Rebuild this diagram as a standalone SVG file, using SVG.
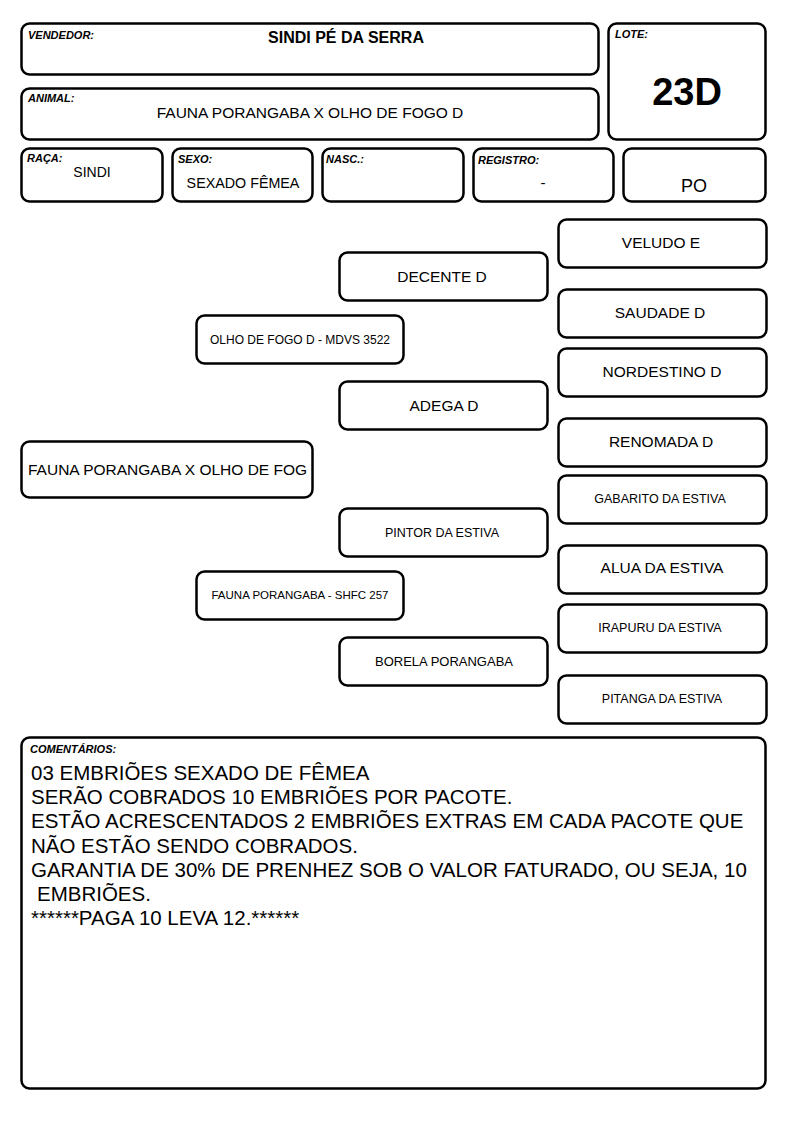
<svg xmlns="http://www.w3.org/2000/svg" width="794" height="1123" viewBox="0 0 794 1123">
<style>
  .box { fill: #ffffff; stroke: #000000; stroke-width: 2.5; }
  text { font-family: "Liberation Sans", Arial, sans-serif; fill: #000000; }
  .lbl { font-size: 11px; font-weight: bold; font-style: italic; }
  .c { text-anchor: middle; }
  .big { font-size: 15.5px; }
  .sm { font-size: 12.5px; }
  .cm { font-size: 20.5px; }
</style>
<rect width="794" height="1123" fill="#ffffff"/>
<g id="header">
  <g id="vendedor">
    <rect class="box" x="21.5" y="23.5" width="577" height="51" rx="8"/>
    <text class="lbl" x="28" y="39">VENDEDOR:</text>
    <text class="c" x="346" y="43" font-size="16" font-weight="bold">SINDI PÉ DA SERRA</text>
  </g>
  <g id="animal">
    <rect class="box" x="21.5" y="88.5" width="577" height="51" rx="8"/>
    <text class="lbl" x="28" y="102">ANIMAL:</text>
    <text class="c big" x="310" y="118">FAUNA PORANGABA X OLHO DE FOGO D</text>
  </g>
  <g id="lote">
    <rect class="box" x="608.5" y="23.5" width="157" height="116" rx="8"/>
    <text class="lbl" x="615" y="38">LOTE:</text>
    <text class="c" x="687" y="105" font-size="38" font-weight="bold">23D</text>
  </g>
  <g id="raca">
    <rect class="box" x="21.5" y="148.5" width="141" height="53" rx="8"/>
    <text class="lbl" x="27" y="162">RAÇA:</text>
    <text class="c" x="92" y="177" font-size="14">SINDI</text>
  </g>
  <g id="sexo">
    <rect class="box" x="172.5" y="148.5" width="140" height="53" rx="8"/>
    <text class="lbl" x="178" y="163">SEXO:</text>
    <text class="c" x="243" y="188" font-size="14.3">SEXADO FÊMEA</text>
  </g>
  <g id="nasc">
    <rect class="box" x="322.5" y="148.5" width="141" height="53" rx="8"/>
    <text class="lbl" x="326" y="163">NASC.:</text>
  </g>
  <g id="registro">
    <rect class="box" x="473.5" y="148.5" width="140" height="53" rx="8"/>
    <text class="lbl" x="478" y="164">REGISTRO:</text>
    <text class="c" x="543" y="188" font-size="15">-</text>
  </g>
  <g id="po">
    <rect class="box" x="623.5" y="148.5" width="142" height="53" rx="8"/>
    <text class="c" x="694" y="192" font-size="18">PO</text>
  </g>
</g>
<g id="connectors"></g>
<g id="pedigree">
  <g id="n-animal">
    <rect class="box" x="21.5" y="441.5" width="291" height="56" rx="8"/>
    <text class="big" x="28" y="475">FAUNA PORANGABA X OLHO DE FOG</text>
  </g>
  <g id="n-pai">
    <rect class="box" x="196.5" y="315.5" width="207" height="48" rx="8"/>
    <text class="c" x="300" y="344" font-size="12">OLHO DE FOGO D - MDVS 3522</text>
  </g>
  <g id="n-mae">
    <rect class="box" x="196.5" y="571.5" width="207" height="48" rx="8"/>
    <text class="c" x="300" y="599" font-size="11.5">FAUNA PORANGABA - SHFC 257</text>
  </g>
  <g id="n-decente">
    <rect class="box" x="339.5" y="252.5" width="208" height="48" rx="8"/>
    <text class="c big" x="442" y="282">DECENTE D</text>
  </g>
  <g id="n-adega">
    <rect class="box" x="339.5" y="381.5" width="208" height="48" rx="8"/>
    <text class="c big" x="444" y="411">ADEGA D</text>
  </g>
  <g id="n-pintor">
    <rect class="box" x="339.5" y="508.5" width="208" height="48" rx="8"/>
    <text class="c sm" x="442" y="537">PINTOR DA ESTIVA</text>
  </g>
  <g id="n-borela">
    <rect class="box" x="339.5" y="637.5" width="208" height="48" rx="8"/>
    <text class="c" x="444" y="666" font-size="13">BORELA PORANGABA</text>
  </g>
  <g id="n-veludo">
    <rect class="box" x="558.5" y="219.5" width="208" height="48" rx="8"/>
    <text class="c big" x="661" y="248">VELUDO E</text>
  </g>
  <g id="n-saudade">
    <rect class="box" x="558.5" y="289.5" width="208" height="48" rx="8"/>
    <text class="c big" x="660" y="318">SAUDADE D</text>
  </g>
  <g id="n-nordestino">
    <rect class="box" x="558.5" y="348.5" width="208" height="48" rx="8"/>
    <text class="c big" x="662" y="377">NORDESTINO D</text>
  </g>
  <g id="n-renomada">
    <rect class="box" x="558.5" y="418.5" width="208" height="48" rx="8"/>
    <text class="c big" x="661" y="447">RENOMADA D</text>
  </g>
  <g id="n-gabarito">
    <rect class="box" x="558.5" y="475.5" width="208" height="48" rx="8"/>
    <text class="c sm" x="660" y="503">GABARITO DA ESTIVA</text>
  </g>
  <g id="n-alua">
    <rect class="box" x="558.5" y="545.5" width="208" height="48" rx="8"/>
    <text class="c big" x="662" y="573">ALUA DA ESTIVA</text>
  </g>
  <g id="n-irapuru">
    <rect class="box" x="558.5" y="604.5" width="208" height="48" rx="8"/>
    <text class="c sm" x="660" y="632">IRAPURU DA ESTIVA</text>
  </g>
  <g id="n-pitanga">
    <rect class="box" x="558.5" y="675.5" width="208" height="48" rx="8"/>
    <text class="c sm" x="662" y="703">PITANGA DA ESTIVA</text>
  </g>
</g>
<g id="comentarios">
  <rect class="box" x="21.5" y="737.5" width="744" height="351" rx="8"/>
  <text class="lbl" x="30" y="753">COMENTÁRIOS:</text>
  <text class="cm" x="31" y="780">03 EMBRIÕES SEXADO DE FÊMEA</text>
  <text class="cm" x="31" y="804">SERÃO COBRADOS 10 EMBRIÕES POR PACOTE.</text>
  <text class="cm" x="31" y="828">ESTÃO ACRESCENTADOS 2 EMBRIÕES EXTRAS EM CADA PACOTE QUE</text>
  <text class="cm" x="31" y="853">NÃO ESTÃO SENDO COBRADOS.</text>
  <text class="cm" x="31" y="877">GARANTIA DE 30% DE PRENHEZ SOB O VALOR FATURADO, OU SEJA, 10</text>
  <text class="cm" x="37" y="901">EMBRIÕES.</text>
  <text class="cm" x="31" y="925">******PAGA 10 LEVA 12.******</text>
</g>
</svg>
